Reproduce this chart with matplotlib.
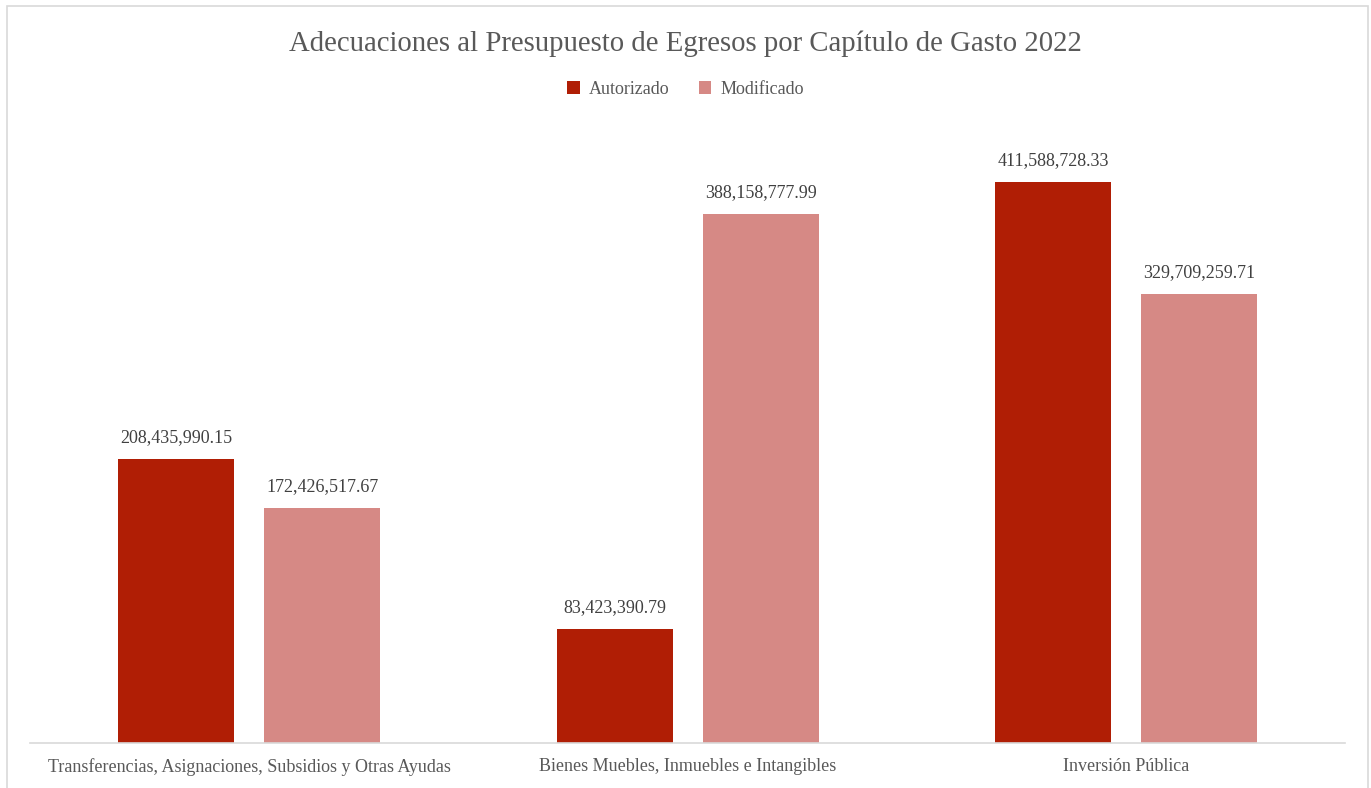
import numpy as np
import matplotlib.pyplot as plt
from matplotlib.patches import Rectangle

categorias = ["Transferencias, Asignaciones, Subsidios y Otras Ayudas",
              "Bienes Muebles, Inmuebles e Intangibles",
              "Inversión Pública"]
autorizado = [208435990.15, 83423390.79, 411588728.33]
modificado = [172426517.67, 388158777.99, 329709259.71]

c_aut = "#B01E05"
c_mod = "#D68985"
gris = "#595959"

plt.rcParams['font.family'] = ['Liberation Serif', 'DejaVu Serif']

fig = plt.figure(figsize=(13.71, 7.88), dpi=100)
ax = fig.add_axes([0.0219, 0.0571, 0.9595, 0.7784])

# marco exterior del grafico
fig.patches.append(Rectangle((0.005, -0.01), 0.993, 1.002, transform=fig.transFigure,
                             fill=False, edgecolor="#d9d9d9", linewidth=1.2))

x = np.arange(len(categorias))
ancho = 0.265
sep = 0.068
b1 = ax.bar(x - (ancho + sep) / 2, autorizado, ancho, color=c_aut, label="Autorizado")
b2 = ax.bar(x + (ancho + sep) / 2, modificado, ancho, color=c_mod, label="Modificado")

for barras, vals in ((b1, autorizado), (b2, modificado)):
    for b, v in zip(barras, vals):
        ax.text(b.get_x() + b.get_width() / 2, v + 9.5e6, f"{v:,.2f}",
                ha="center", va="bottom", fontsize=13, color="#404040")

ax.set_xlim(-0.5, 2.5)
ax.set_ylim(0, 450e6)
ax.set_xticks(x)
ax.set_xticklabels(categorias, fontsize=13, color=gris)
ax.tick_params(axis="x", length=0, pad=11)
ax.set_yticks([])
for s in ("top", "right", "left"):
    ax.spines[s].set_visible(False)
ax.spines["bottom"].set_color("#d9d9d9")
ax.spines["bottom"].set_linewidth(1.2)

fig.text(0.5, 0.945, "Adecuaciones al Presupuesto de Egresos por Capítulo de Gasto 2022",
         ha="center", va="center", fontsize=20.7, color=gris)
fig.legend(loc="center", bbox_to_anchor=(0.5, 0.887), ncol=2, frameon=False,
           fontsize=13, handlelength=0.7, handleheight=0.7, columnspacing=1.6,
           handletextpad=0.5, labelcolor=gris)

fig.savefig("out.png", dpi=100)
